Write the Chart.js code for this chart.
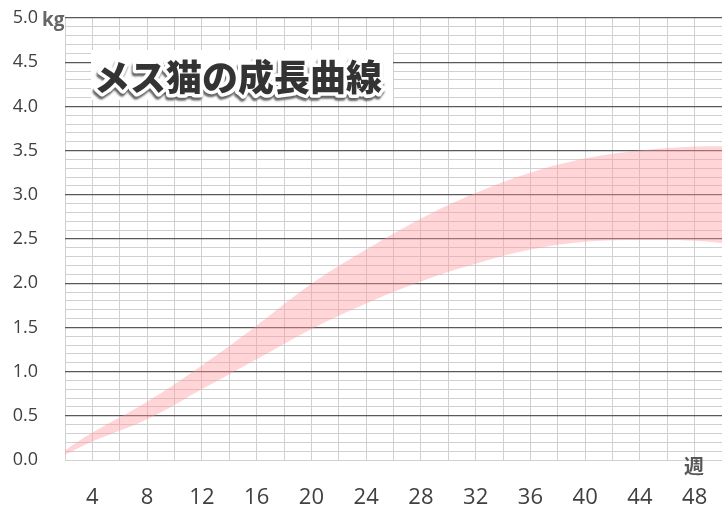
<!DOCTYPE html>
<html lang="ja">
<head>
<meta charset="utf-8">
<title>メス猫の成長曲線</title>
<script src="https://cdn.jsdelivr.net/npm/chart.js"></script>
<style>
  html, body { margin: 0; padding: 0; background: #fff; }
  #wrap { width: 722px; height: 519px; }
</style>
</head>
<body>
<div id="wrap"><canvas id="growth" width="722" height="519"></canvas></div>
<script>
// weeks (x) and weight range in kg
const weeks = [2, 4, 8, 12, 16, 20, 24, 28, 32, 36, 40, 44, 48, 50];
const upperKg = [0.11, 0.31, 0.66, 1.07, 1.52, 1.99, 2.38, 2.73, 3.02, 3.25, 3.41, 3.5, 3.545, 3.55];
const lowerKg = [0.06, 0.21, 0.46, 0.8, 1.14, 1.48, 1.77, 2.02, 2.22, 2.38, 2.47, 2.49, 2.48, 2.455];
const weekLabels = [4, 8, 12, 16, 20, 24, 28, 32, 36, 40, 44, 48];
const kgLabels = [0, 0.5, 1, 1.5, 2, 2.5, 3, 3.5, 4, 4.5, 5];

const titleText = "メス猫の成長曲線";
const labelFont = "'Open Sans', 'Noto Sans', sans-serif";
const jpFont = "'Noto Sans CJK JP', sans-serif";

const ctx = document.getElementById("growth").getContext("2d");

function isMajorKg(v) {
  return kgLabels.some((k) => Math.abs(k - v) < 1e-6);
}

// title box, "kg" and "週" unit labels
const overlay = {
  id: "overlay",
  afterDraw(chart) {
    const c = chart.ctx;
    c.save();
    // white box behind the title
    c.fillStyle = "#fff";
    c.fillRect(91, 50, 302, 50);
    c.font = `900 36px ${jpFont}`;
    c.textBaseline = "middle";
    c.textAlign = "left";
    c.lineJoin = "round";
    c.shadowColor = "rgba(0,0,0,0.6)";
    c.shadowOffsetX = -1;
    c.shadowOffsetY = 3;
    c.shadowBlur = 2;
    c.strokeStyle = "#fff";
    c.lineWidth = 7;
    c.strokeText(titleText, 94, 77);
    c.shadowColor = "transparent";
    c.fillStyle = "#333";
    c.fillText(titleText, 94, 77);

    c.fillStyle = "#666";
    c.font = `bold 19px ${labelFont}`;
    c.textBaseline = "alphabetic";
    c.fillText("kg", 42, 26);
    c.font = `bold 20px ${jpFont}`;
    c.fillStyle = "#595959";
    c.fillText("週", 684, 474);
    c.restore();
  }
};

const config = {
  type: "line",
  data: {
    datasets: [
      {
        label: "下限",
        data: weeks.map((w, i) => ({ x: w, y: lowerKg[i] })),
        borderWidth: 0,
        pointRadius: 0,
        fill: false,
        tension: 0.4
      },
      {
        label: "上限",
        data: weeks.map((w, i) => ({ x: w, y: upperKg[i] })),
        borderWidth: 0,
        pointRadius: 0,
        fill: "-1",
        backgroundColor: "rgba(255, 150, 156, 0.4)",
        tension: 0.4
      }
    ]
  },
  options: {
    responsive: false,
    animation: false,
    layout: { padding: { top: 18, left: 0, right: 0, bottom: 0 } },
    plugins: {
      legend: { display: false },
      tooltip: { enabled: false }
    },
    scales: {
      x: {
        type: "linear",
        min: 2,
        max: 50,
        afterFit: (s) => {
          s.height = 59;
          s.paddingLeft = 0;
          s.paddingRight = 0;
        },
        ticks: {
          stepSize: 2,
          autoSkip: false,
          maxRotation: 0,
          padding: 25,
          color: "#404040",
          font: { family: labelFont, size: 22 },
          callback: (v) => (weekLabels.includes(v) ? String(v) : "")
        },
        grid: { color: "#d0d0d0", lineWidth: 1, drawTicks: false },
        border: { display: true, color: "#d0d0d0" }
      },
      y: {
        min: 0,
        max: 5,
        afterFit: (s) => {
          s.width = 65;
          s.paddingTop = 0;
          s.paddingBottom = 0;
        },
        ticks: {
          stepSize: 0.1,
          autoSkip: false,
          padding: 27,
          color: "#404040",
          font: { family: labelFont, size: 18 },
          callback: (v) => (isMajorKg(v) ? v.toFixed(1) : "")
        },
        grid: {
          drawTicks: false,
          color: (c) => (c.tick && isMajorKg(c.tick.value) && c.tick.value > 0 ? "#595959" : "#d0d0d0"),
          lineWidth: (c) => (c.tick && isMajorKg(c.tick.value) && c.tick.value > 0 ? 1.3 : 1)
        },
        border: { display: false }
      }
    }
  },
  plugins: [overlay]
};

new Chart(ctx, config);
</script>
</body>
</html>
